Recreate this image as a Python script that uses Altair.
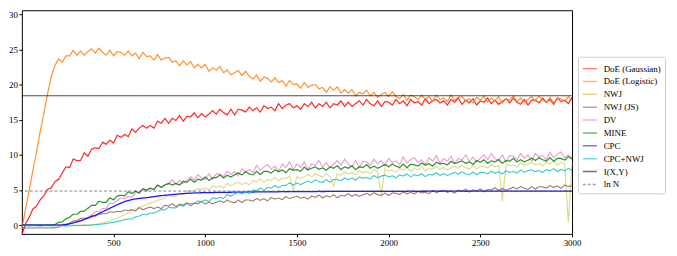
import altair as alt
import pandas as pd

steps = list(range(0, 3001, 20))

series_names = ["DoE (Gaussian)", "DoE (Logistic)", "NWJ", "NWJ (JS)", "DV",
                "MINE", "CPC", "CPC+NWJ", "I(X,Y)", "ln N"]
series_colors = ["#ff0000", "#ff7f0e", "#bcbd22", "#8c564b", "#e377c2",
                 "#008000", "#0000ff", "#00bfbf", "#000000", "#555555"]
series_dashes = [[1, 0]] * 9 + [[3, 2]]

doe_gaussian = [
    -1.4, 0.2, 1.1, 2.3, 2.7, 3.6, 4.2, 5.1, 5.3, 6.2,
    6.5, 7.4, 8.3, 8.2, 9.4, 9.2, 9.2, 10.3, 9.8, 10.8,
    11.0, 10.9, 11.8, 11.5, 12.1, 11.7, 12.8, 12.5, 12.9, 12.6,
    13.7, 13.2, 13.8, 14.2, 13.8, 14.2, 13.8, 14.8, 14.5, 15.2,
    14.5, 15.2, 14.9, 15.6, 14.8, 15.5, 15.4, 16.0, 15.3, 15.9,
    15.4, 15.8, 16.3, 15.8, 16.5, 16.0, 15.7, 16.5, 15.7, 16.5,
    16.4, 16.1, 16.8, 16.3, 16.7, 16.1, 17.0, 16.6, 16.8, 16.3,
    17.3, 16.6, 17.1, 17.3, 16.7, 17.0, 16.5, 17.3, 16.9, 17.5,
    16.7, 17.3, 16.9, 17.5, 16.7, 17.3, 17.1, 17.7, 16.9, 17.5,
    16.9, 17.3, 17.7, 17.1, 17.9, 17.3, 17.0, 17.7, 16.9, 17.6,
    17.5, 17.1, 17.9, 17.3, 17.7, 17.0, 17.9, 17.4, 17.6, 17.1,
    18.0, 17.3, 17.7, 17.9, 17.4, 17.7, 17.1, 17.9, 17.5, 18.1,
    17.2, 17.8, 17.4, 18.0, 17.1, 17.7, 17.5, 18.1, 17.3, 17.8,
    17.2, 17.6, 18.0, 17.4, 18.1, 17.5, 17.2, 17.9, 17.1, 17.8,
    17.8, 17.4, 18.1, 17.5, 17.9, 17.2, 18.1, 17.6, 17.8, 17.3,
    18.2]

doe_logistic = [
    -0.5, 2.3, 4.9, 7.8, 10.4, 13.3, 15.9, 18.7, 21.1, 22.7,
    23.7, 23.2, 24.1, 24.1, 24.9, 24.2, 24.8, 24.2, 24.7, 25.1,
    24.5, 25.2, 24.6, 24.2, 24.9, 24.1, 24.7, 24.6, 24.2, 24.8,
    24.1, 24.5, 23.7, 24.6, 24.0, 24.1, 23.5, 24.3, 23.5, 23.8,
    23.9, 23.2, 23.4, 22.7, 23.4, 22.8, 23.3, 22.4, 22.9, 22.4,
    22.9, 21.9, 22.4, 22.1, 22.6, 21.7, 22.1, 21.4, 21.7, 22.0,
    21.3, 21.9, 21.2, 20.8, 21.4, 20.5, 21.1, 20.9, 20.4, 21.0,
    20.3, 20.6, 19.8, 20.6, 20.0, 20.1, 19.5, 20.3, 19.6, 19.9,
    20.0, 19.4, 19.6, 18.9, 19.7, 19.2, 19.7, 18.8, 19.3, 18.8,
    19.3, 18.4, 18.9, 18.7, 19.2, 18.4, 18.9, 18.2, 18.6, 18.9,
    18.3, 19.0, 18.3, 18.0, 18.6, 17.8, 18.5, 18.3, 17.9, 18.5,
    17.9, 18.3, 17.6, 18.5, 17.9, 18.1, 17.6, 18.5, 17.8, 18.2,
    18.3, 17.7, 18.0, 17.4, 18.2, 17.8, 18.4, 17.5, 18.1, 17.7,
    18.3, 17.4, 18.0, 17.8, 18.4, 17.6, 18.1, 17.5, 17.9, 18.3,
    17.7, 18.4, 17.8, 17.5, 18.2, 17.4, 18.1, 18.0, 17.6, 18.3,
    17.7]

nwj = [
    0.0, 0.0, 0.0, 0.0, 0.0, 0.0, 0.0, 0.0, 0.0, 0.0,
    0.0, 0.0, 0.0, 0.0, 0.0, 0.0, 0.0, 0.0, 0.0, 0.03,
    0.1, 0.2, 0.3, 0.45, 0.6, 0.8, 1.0, 1.25, 1.5, 1.75,
    2.0, 2.28, 2.48, 2.73, 2.88, 3.13, 3.28, 3.53, 3.68, 3.88,
    4.2, 4.1, 4.15, 4.55, 4.4, 4.8, 4.9, 4.8, 5.2, 5.05,
    5.3, 5.0, 5.6, 5.4, 5.55, 5.3, 5.95, 5.6, 5.9, 6.1,
    5.8, 6.05, 5.75, 6.35, 6.15, 6.6, 6.1, 6.5, 6.4, 6.8,
    6.3, 6.7, 6.6, 7.0, 5.0, 6.9, 6.6, 6.9, 7.2, 6.9,
    7.35, 7.05, 6.85, 7.35, 6.9, 5.6, 7.3, 7.1, 7.6, 7.25,
    7.5, 7.15, 7.75, 7.45, 7.6, 7.35, 7.95, 7.6, 4.3, 8.0,
    7.7, 7.85, 7.55, 8.05, 7.85, 8.2, 7.65, 8.05, 7.85, 8.25,
    7.7, 8.05, 8.0, 8.35, 7.9, 8.2, 7.85, 8.15, 8.4, 8.1,
    8.5, 8.15, 8.0, 8.45, 8.0, 8.4, 8.35, 8.15, 8.6, 8.3,
    8.5, 3.4, 8.7, 8.45, 8.55, 8.3, 8.9, 8.5, 8.75, 8.9,
    8.6, 8.75, 8.45, 8.95, 8.75, 9.1, 8.55, 8.95, 8.75, 0.4,
    8.9]

nwj_js = [
    -0.4, -0.4, -0.42, -0.4, -0.41, -0.4, -0.42, -0.4, -0.41, -0.38,
    -0.28, 0.0, 0.02, 0.3, 0.6, 0.63, 0.97, 0.98, 1.02, 1.33,
    1.28, 1.55, 1.62, 1.62, 1.9, 1.82, 1.98, 1.88, 2.15, 2.08,
    2.2, 2.0, 2.5, 2.18, 2.4, 2.58, 2.35, 2.57, 2.35, 2.83,
    2.7, 3.05, 2.65, 3.0, 2.85, 3.18, 2.75, 3.1, 3.05, 3.37,
    3.0, 3.28, 3.01, 3.24, 3.47, 3.2, 3.58, 3.31, 3.19, 3.57,
    3.2, 3.59, 3.57, 3.41, 3.79, 3.53, 3.76, 3.45, 3.93, 3.72,
    3.85, 3.62, 4.09, 3.76, 3.98, 4.1, 3.82, 3.99, 3.71, 4.13,
    3.95, 4.28, 3.85, 4.18, 4.0, 4.33, 3.9, 4.23, 4.15, 4.48,
    4.1, 4.37, 4.09, 4.31, 4.53, 4.25, 4.62, 4.34, 4.21, 4.58,
    4.2, 4.57, 4.54, 4.36, 4.73, 4.45, 4.67, 4.44, 4.81, 4.58,
    4.7, 4.47, 4.94, 4.61, 4.83, 4.95, 4.67, 4.84, 4.56, 4.98,
    4.8, 5.12, 4.7, 5.02, 4.85, 5.17, 4.75, 5.07, 5.0, 5.32,
    4.95, 5.22, 4.95, 5.17, 5.4, 5.12, 5.5, 5.22, 5.1, 5.47,
    5.1, 5.47, 5.44, 5.26, 5.63, 5.35, 5.57, 5.24, 5.71, 5.48,
    5.6]

dv = [
    0.0, 0.0, 0.0, 0.0, 0.0, 0.0, 0.0, 0.0, 0.0, 0.0,
    0.05, 0.1, 0.15, 0.25, 0.35, 0.5, 0.65, 0.85, 1.1, 1.4,
    1.9, 1.95, 2.35, 2.4, 3.15, 3.05, 3.5, 3.85, 3.75, 4.1,
    4.0, 4.6, 4.6, 5.1, 4.8, 5.25, 5.2, 5.65, 5.35, 5.8,
    5.8, 6.5, 5.8, 6.4, 5.9, 6.4, 6.9, 6.4, 7.2, 6.7,
    6.5, 7.3, 6.5, 7.3, 7.3, 6.9, 7.7, 7.2, 7.6, 7.0,
    8.0, 7.6, 7.9, 7.5, 8.5, 7.8, 8.3, 8.6, 8.0, 8.4,
    7.7, 8.7, 8.2, 9.0, 7.9, 8.7, 8.2, 9.0, 7.9, 8.7,
    8.5, 9.2, 8.3, 8.9, 8.2, 8.7, 9.2, 8.5, 9.4, 8.7,
    8.3, 9.2, 8.2, 9.1, 9.0, 8.5, 9.4, 8.7, 9.2, 8.4,
    9.5, 8.9, 9.15, 8.6, 9.7, 8.85, 9.35, 9.6, 8.9, 9.3,
    8.6, 9.6, 9.1, 9.9, 8.8, 9.5, 9.1, 9.8, 8.8, 9.5,
    9.3, 10.0, 9.1, 9.7, 9.0, 9.5, 10.0, 9.3, 10.2, 9.5,
    9.1, 10.0, 9.0, 9.9, 9.8, 9.3, 10.2, 9.5, 10.0, 9.1,
    10.2, 9.7, 9.9, 9.3, 10.4, 9.6, 10.1, 10.4, 9.6, 10.0,
    9.6]

mine = [
    0.0, 0.0, 0.0, 0.0, 0.0, 0.0, 0.0, 0.0, 0.0, 0.05,
    0.4, 0.45, 0.9, 1.1, 1.55, 1.55, 1.95, 2.0, 2.4, 2.8,
    2.8, 3.4, 3.25, 3.25, 3.9, 3.6, 4.15, 4.25, 4.15, 4.75,
    4.5, 4.85, 4.55, 5.2, 5.0, 5.25, 5.05, 5.7, 5.4, 5.7,
    5.95, 5.7, 5.95, 5.7, 6.25, 6.1, 6.55, 6.1, 6.55, 6.4,
    6.85, 6.35, 6.75, 6.75, 7.15, 6.7, 7.1, 6.85, 7.15, 7.45,
    7.15, 7.6, 7.3, 7.15, 7.65, 7.2, 7.65, 7.65, 7.4, 7.9,
    7.6, 7.85, 7.45, 8.05, 7.8, 7.9, 7.65, 8.25, 7.85, 8.1,
    8.3, 7.95, 8.15, 7.8, 8.3, 8.1, 8.45, 7.9, 8.3, 8.1,
    8.45, 7.9, 8.3, 8.2, 8.6, 8.1, 8.4, 8.1, 8.35, 8.65,
    8.3, 8.7, 8.4, 8.2, 8.7, 8.2, 8.65, 8.6, 8.4, 8.85,
    8.55, 8.75, 8.4, 8.95, 8.7, 8.8, 8.55, 9.1, 8.75, 8.95,
    9.15, 8.8, 9.0, 8.65, 9.2, 8.95, 9.3, 8.8, 9.15, 9.0,
    9.35, 8.8, 9.2, 9.1, 9.5, 9.0, 9.3, 9.0, 9.25, 9.55,
    9.2, 9.6, 9.3, 9.1, 9.6, 9.1, 9.5, 9.5, 9.25, 9.75,
    9.4]

cpc = [
    0.0, 0.0, 0.0, 0.0, 0.0, 0.0, 0.0, 0.0, 0.0, 0.0,
    0.0, 0.01, 0.08, 0.18, 0.3, 0.45, 0.6, 0.8, 1.0, 1.2,
    1.4, 1.65, 1.9, 2.15, 2.4, 2.65, 2.9, 3.12, 3.35, 3.5,
    3.65, 3.73, 3.8, 3.85, 3.9, 3.98, 4.05, 4.13, 4.2, 4.25,
    4.3, 4.35, 4.4, 4.44, 4.48, 4.52, 4.55, 4.58, 4.6, 4.61,
    4.62, 4.63, 4.64, 4.65, 4.66, 4.66, 4.67, 4.68, 4.69, 4.7,
    4.7, 4.71, 4.72, 4.71, 4.73, 4.72, 4.74, 4.73, 4.75, 4.74,
    4.75, 4.76, 4.75, 4.77, 4.76, 4.77, 4.76, 4.78, 4.77, 4.78,
    4.78, 4.79, 4.78, 4.79, 4.8, 4.79, 4.8, 4.79, 4.81, 4.8,
    4.8, 4.81, 4.8, 4.81, 4.8, 4.82, 4.81, 4.8, 4.82, 4.81,
    4.81, 4.82, 4.81, 4.82, 4.81, 4.82, 4.83, 4.82, 4.81, 4.82,
    4.82, 4.83, 4.82, 4.83, 4.82, 4.83, 4.82, 4.83, 4.84, 4.83,
    4.83, 4.82, 4.83, 4.84, 4.83, 4.83, 4.84, 4.83, 4.84, 4.83,
    4.84, 4.83, 4.84, 4.83, 4.84, 4.84, 4.83, 4.84, 4.85, 4.84,
    4.84, 4.85, 4.84, 4.84, 4.85, 4.84, 4.85, 4.84, 4.85, 4.84,
    4.85]

cpc_nwj = [
    -0.1, -0.1, -0.11, -0.1, -0.1, -0.12, -0.1, -0.1, -0.11, -0.1,
    -0.1, -0.1, -0.11, -0.1, -0.1, -0.08, -0.05, -0.04, -0.02, 0.0,
    0.06, 0.09, 0.16, 0.21, 0.32, 0.39, 0.52, 0.6, 0.77, 0.87,
    0.88, 1.17, 1.28, 1.54, 1.47, 1.73, 1.7, 1.95, 2.2, 2.17,
    2.53, 2.45, 2.46, 2.82, 2.67, 3.02, 3.08, 3.08, 3.44, 3.33,
    3.6, 3.35, 3.9, 3.75, 3.95, 3.8, 4.35, 4.1, 4.45, 4.65,
    4.45, 4.7, 4.5, 5.0, 4.9, 5.3, 4.95, 5.35, 5.25, 5.65,
    5.3, 5.67, 5.65, 6.02, 5.7, 6.0, 5.77, 6.03, 6.28, 6.04,
    6.45, 6.19, 6.08, 6.47, 6.11, 6.5, 6.49, 6.33, 6.72, 6.46,
    6.7, 6.39, 6.87, 6.66, 6.79, 6.58, 7.06, 6.75, 6.98, 7.12,
    6.85, 7.02, 6.74, 7.16, 6.98, 7.3, 6.87, 7.19, 7.01, 7.33,
    6.9, 7.22, 7.14, 7.46, 7.08, 7.35, 7.07, 7.29, 7.51, 7.23,
    7.6, 7.32, 7.18, 7.55, 7.16, 7.53, 7.49, 7.31, 7.67, 7.39,
    7.6, 7.27, 7.74, 7.51, 7.63, 7.4, 7.87, 7.54, 7.76, 7.88,
    7.6, 7.77, 7.49, 7.91, 7.73, 8.05, 7.62, 7.94, 7.76, 8.08,
    7.8]

true_mi = [18.42]
ln_n = [4.85]

x_ticks = [500, 1000, 1500, 2000, 2500, 3000]
y_ticks = [0, 5, 10, 15, 20, 25, 30]

FONT = "'Liberation Serif', 'DejaVu Serif', serif"

xscale = alt.Scale(domain=[0, 3000], nice=False, zero=False)
yscale = alt.Scale(domain=[-1.25, 30.6], nice=False, zero=False)
xaxis = alt.Axis(values=x_ticks, title=None, grid=False, domain=False, format="d",
                 tickSize=3, labelPadding=1.5, labelFlush=False)
yaxis = alt.Axis(values=y_ticks, title=None, grid=False, domain=False, format="d",
                 tickSize=3, labelPadding=1.5)
cscale = alt.Scale(domain=series_names, range=series_colors)
dscale = alt.Scale(domain=series_names, range=series_dashes)
leg = alt.Legend(orient="none", legendX=562, legendY=47, symbolType="stroke",
                 symbolSize=200, symbolStrokeWidth=1.5, symbolOpacity=0.55,
                 labelFont=FONT, labelFontSize=9, labelColor="black",
                 labelOffset=6, strokeColor="#cccccc", fillColor="white",
                 padding=4, cornerRadius=2, rowPadding=-2.5)


def line_layer(name, values, opacity, width):
    df = pd.DataFrame({"step": steps, "value": values, "series": name})
    return alt.Chart(df).mark_line(opacity=opacity, strokeWidth=width,
                                   strokeJoin="miter").encode(
        x=alt.X("step:Q", scale=xscale, axis=xaxis),
        y=alt.Y("value:Q", scale=yscale, axis=yaxis),
        color=alt.Color("series:N", scale=cscale, legend=leg, title=None),
        strokeDash=alt.StrokeDash("series:N", scale=dscale, legend=leg, title=None),
    )


def rule_layer(name, values, opacity, width):
    df = pd.DataFrame({"value": values, "series": name})
    return alt.Chart(df).mark_rule(opacity=opacity, strokeWidth=width).encode(
        y=alt.Y("value:Q", scale=yscale, axis=yaxis),
        color=alt.Color("series:N", scale=cscale, legend=leg, title=None),
        strokeDash=alt.StrokeDash("series:N", scale=dscale, legend=leg, title=None),
    )


layers = [
    line_layer("DoE (Gaussian)", doe_gaussian, 0.85, 1.2),
    line_layer("DoE (Logistic)", doe_logistic, 0.85, 1.2),
    line_layer("NWJ", nwj, 0.55, 1.1),
    line_layer("NWJ (JS)", nwj_js, 0.8, 1.1),
    line_layer("DV", dv, 0.75, 1.1),
    line_layer("MINE", mine, 0.85, 1.2),
    line_layer("CPC", cpc, 0.9, 1.3),
    line_layer("CPC+NWJ", cpc_nwj, 0.8, 1.1),
    rule_layer("I(X,Y)", true_mi, 0.7, 1.2),
    rule_layer("ln N", ln_n, 0.9, 0.8),
]

chart = alt.layer(*layers).properties(
    width=556, height=226,
    padding={"left": 14, "top": 1, "right": 98, "bottom": 13},
    autosize=alt.AutoSizeParams(type="none"),
).configure_view(
    stroke="black", strokeWidth=1
).configure_axis(
    labelFont=FONT, labelFontSize=9, labelColor="black", tickColor="black"
)

chart.save("out.html", embed_options={"renderer": "svg", "actions": False})
